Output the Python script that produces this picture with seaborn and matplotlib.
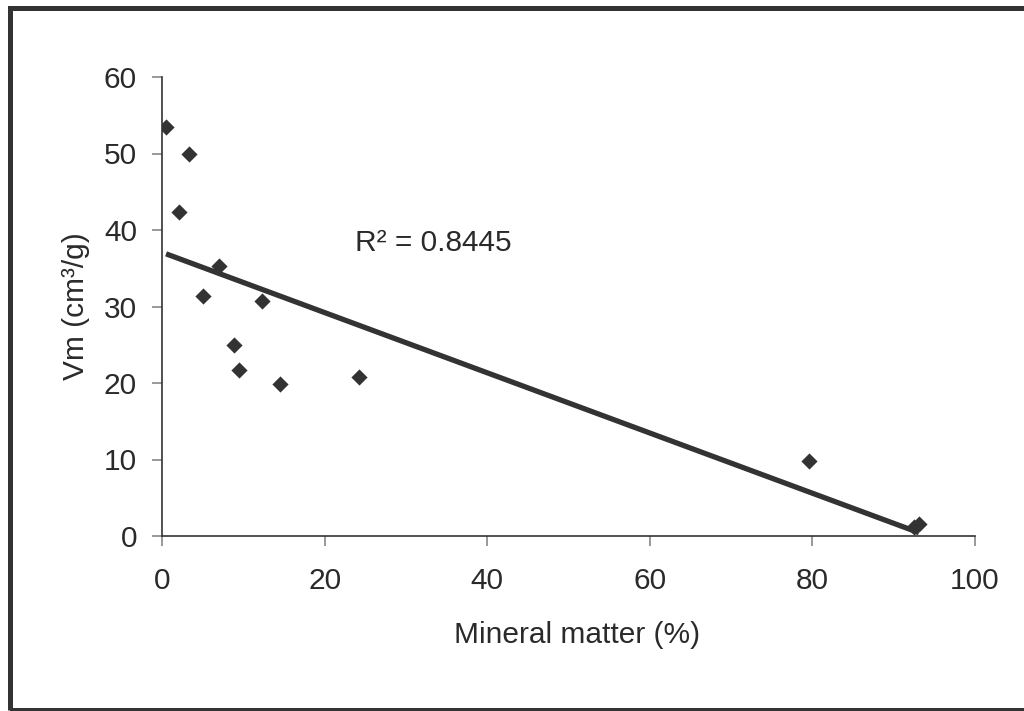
import matplotlib
matplotlib.use("Agg")
import matplotlib.pyplot as plt
import seaborn as sns
import pandas as pd
from matplotlib.patches import Rectangle

mineral_matter = [0.5, 3.3, 2.1, 7.0, 5.0, 12.3, 8.9, 9.5, 14.5, 24.2, 79.6, 92.5, 93.1]
vm = [53.5, 50.0, 42.4, 35.3, 31.4, 30.7, 25.0, 21.7, 19.9, 20.8, 9.8, 1.2, 1.6]
x_ticks = [0, 20, 40, 60, 80, 100]
y_ticks = [0, 10, 20, 30, 40, 50, 60]
r2_label = "R² = 0.8445"

df = pd.DataFrame({"Mineral matter (%)": mineral_matter, "Vm": vm})

sns.set_style("white")
plt.rcParams['font.family'] = ['Liberation Sans', 'DejaVu Sans']

dark = "#333333"
txt = "#2a2a2a"
fs = 21.5
fig = plt.figure(figsize=(10.24, 7.11), dpi=100)
ax = fig.add_axes([162/1024, 1 - 536/711, (975-162)/1024, (536-77)/711])

sns.regplot(data=df, x="Mineral matter (%)", y="Vm", ci=None, truncate=True, ax=ax,
            marker="D",
            scatter_kws=dict(s=68, color=dark, alpha=1, linewidths=0, zorder=3),
            line_kws=dict(color=dark, lw=3.8, solid_capstyle="butt", zorder=2))

ax.set_xlim(0, 100)
ax.set_ylim(0, 60)
ax.set_xticks(x_ticks)
ax.set_yticks(y_ticks)
ax.tick_params(axis="both", labelsize=fs, colors="#888888", labelcolor=txt,
               length=7, width=1.2, direction="out", left=True, bottom=True)
ax.tick_params(axis="x", pad=15)
ax.tick_params(axis="y", pad=11)
for s in ["top", "right"]:
    ax.spines[s].set_visible(False)
for s in ["left", "bottom"]:
    ax.spines[s].set_color(dark)
    ax.spines[s].set_linewidth(1.2)

ax.set_xlabel("Mineral matter (%)", fontsize=fs, color=txt, labelpad=19)
ax.xaxis.label.set_x(0.51)
ax.set_ylabel("Vm (cm³/g)", fontsize=fs, color=txt, labelpad=10)

ax.text(23.7, 38.3, r2_label, fontsize=fs, color=txt, ha="left", va="center")

# outer frame (left, top, bottom visible)
fig.add_artist(Rectangle((9.5/1024, 1 - 710/711), 1.2, (710-7.5)/711,
                         transform=fig.transFigure, fill=False,
                         edgecolor=dark, lw=3.6, clip_on=False))

fig.savefig("out.png", dpi=100)
